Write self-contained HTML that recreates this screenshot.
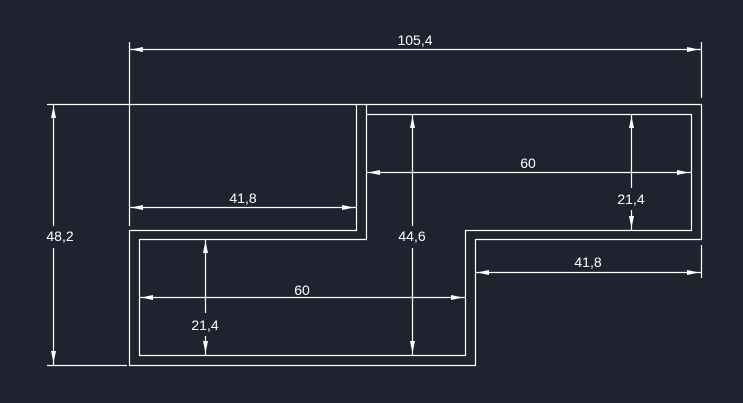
<!DOCTYPE html>
<html><head><style>body{margin:0;background:#1f2330}svg{display:block}text{font-family:"Liberation Sans",sans-serif;font-size:14px;fill:#fff;text-anchor:middle}</style></head><body>
<svg width="743" height="403" viewBox="0 0 743 403">
<rect width="743" height="403" fill="#1f2330"/>
<g stroke="#fff" stroke-width="1.2" fill="none">
<path d="M129.5 365.5V230.5H356.5V104.5H701.5V239.5H475.5V365.5Z"/>
<path d="M139.5 355.5V239.5H366.5V114.5H691.5V230.5H465.5V355.5Z"/>
<path d="M366.5 104.5V114.5"/>
<path d="M129.5 42V226M701.5 42V98M701.5 245V278M47 104.5H356M47 365.5H127"/>
<path d="M129.5 49.5H701.5M53.5 104.5V226M53.5 248V365.5M129.5 207.5H356.5M366.5 172.5H691.5M631.5 114.5V188M631.5 210V230.5M475.5 272.5H701.5M139.5 297.5H465.5M412.5 114.5V226M412.5 248V355.5M205.5 239.5V313M205.5 336V355.5"/>
</g>
<g fill="#fff">
<polygon points="131,49.5 143,47 143,52"/><polygon points="699,49.5 687,47 687,52"/>
<polygon points="131,207.5 143,205 143,210"/><polygon points="354,207.5 342,205 342,210"/>
<polygon points="368,172.5 380,170 380,175"/><polygon points="689,172.5 677,170 677,175"/>
<polygon points="477,272.5 489,270 489,275"/><polygon points="699,272.5 687,270 687,275"/>
<polygon points="141,297.5 153,295 153,300"/><polygon points="463,297.5 451,295 451,300"/>
<polygon points="53.5,106 51,118 56,118"/><polygon points="53.5,363 51,351 56,351"/>
<polygon points="631.5,116 629,128 634,128"/><polygon points="631.5,228 629,216 634,216"/>
<polygon points="412.5,116 410,128 415,128"/><polygon points="412.5,353 410,341 415,341"/>
<polygon points="205.5,241 203,253 208,253"/><polygon points="205.5,353 203,341 208,341"/>
</g>
<text x="415" y="45">105,4</text>
<text x="60" y="241">48,2</text>
<text x="243" y="203">41,8</text>
<text x="528" y="168">60</text>
<text x="631" y="204">21,4</text>
<text x="412" y="241">44,6</text>
<text x="588" y="267">41,8</text>
<text x="302" y="295">60</text>
<text x="205" y="330">21,4</text>
</svg>
</body></html>
